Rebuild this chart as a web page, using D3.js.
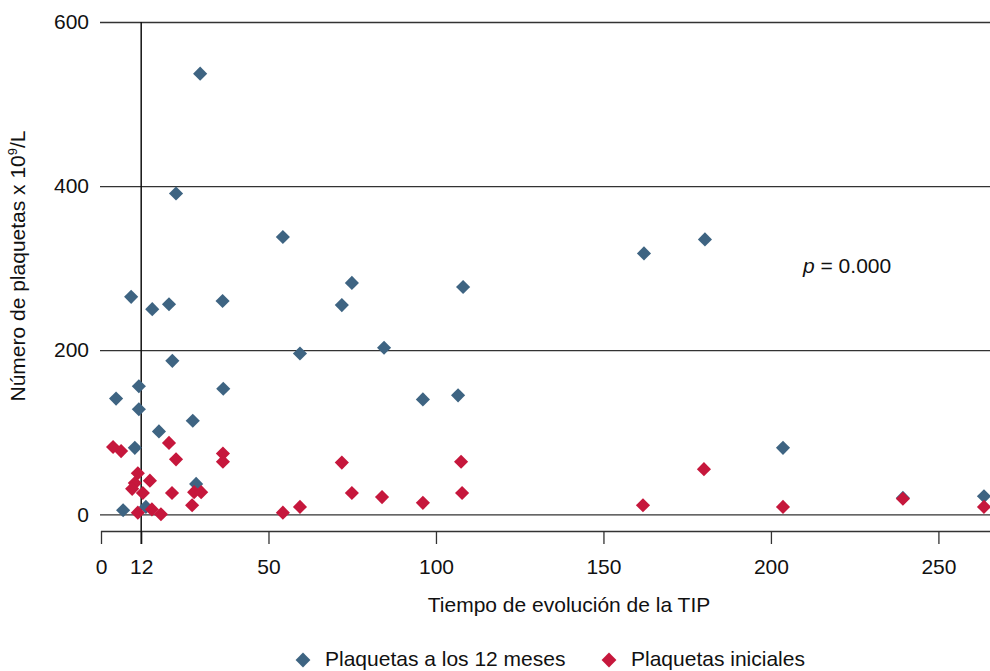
<!DOCTYPE html>
<html>
<head>
<meta charset="utf-8">
<script src="https://cdn.jsdelivr.net/npm/d3@7"></script>
<style>
  body { margin: 0; background: #fff; }
  svg { font-family: "Liberation Sans", Arial, sans-serif; }
</style>
</head>
<body>
<svg id="chart"></svg>
<script>
// months of evolution vs platelets (x 10^9/L)
const blueX = [29.6, 22.4, 54.3, 162.1, 180.3, 9.0, 15.3, 20.3, 36.3, 74.9, 71.9, 108.1, 21.3, 59.4, 84.5,
  11.3, 4.5, 36.5, 96.1, 106.6, 11.3, 27.4, 17.3, 10.1, 203.6, 28.4, 6.6, 13.4, 263.6, 239.4];
const blueY = [537, 391, 338, 318, 335, 265, 250, 256, 260, 282, 255, 277, 187, 196, 203,
  156, 141, 153, 140, 145, 128, 114, 101, 81, 81, 37, 5, 9, 22, 20];

const redX = [3.6, 6.0, 20.3, 22.4, 36.4, 36.4, 11.0, 14.6, 10.1, 9.3, 12.5, 21.2, 27.8, 29.9, 27.2, 11.0,
  15.2, 17.9, 54.3, 59.4, 71.9, 74.9, 83.9, 96.1, 107.5, 107.8, 161.8, 180.0, 203.6, 239.4, 263.6];
const redY = [82, 77, 87, 67, 74, 64, 50, 41, 38, 31, 26, 26, 27, 27, 11, 2,
  6, 0, 2, 9, 63, 26, 21, 14, 64, 26, 11, 55, 9, 19, 9];

const xTicks = [0, 12, 50, 100, 150, 200, 250];
const yTicks = [0, 200, 400, 600];
const seriesNames = ["Plaquetas a los 12 meses", "Plaquetas iniciales"];
const colors = ["#3e6482", "#c6173c"];

const width = 990, height = 671;
const fs = 21;
const svg = d3.select("#chart").attr("width", width).attr("height", height);

const x = d3.scaleLinear().domain([0, 265.4]).range([101, 990]);
const y = d3.scaleLinear().domain([0, 600]).range([514.3, 22]);

// horizontal grid lines + y labels
const yAxis = svg.append("g")
  .attr("transform", "translate(100,0)")
  .call(d3.axisRight(y).tickValues(yTicks).tickSize(890).tickFormat(d3.format("d")));
yAxis.select(".domain").remove();
yAxis.selectAll(".tick line").attr("stroke", "#333").attr("stroke-width", 1.3);
yAxis.selectAll(".tick text")
  .attr("x", -11).attr("text-anchor", "end")
  .attr("font-size", fs).attr("fill", "#111");

// x axis at bottom
const xAxis = svg.append("g")
  .attr("transform", "translate(0,531)")
  .call(d3.axisBottom(x).tickValues(xTicks).tickSize(13).tickSizeOuter(0).tickFormat(d3.format("d")));
xAxis.select(".domain").attr("stroke", "#333").attr("stroke-width", 1.5)
  .attr("d", `M${x(0)},0.5H${width}`);
xAxis.selectAll(".tick line").attr("stroke", "#333").attr("stroke-width", 1.3);
xAxis.selectAll(".tick text").attr("dy", 0).attr("y", 43)
  .attr("font-size", fs).attr("fill", "#111");

// reference line at 12 months
svg.append("line")
  .attr("x1", x(12)).attr("x2", x(12))
  .attr("y1", y(600)).attr("y2", 544)
  .attr("stroke", "#111").attr("stroke-width", 1.5);

// points
const diamond = d3.symbol(d3.symbolSquare, 100);
function drawSeries(xs, ys, color) {
  svg.append("g").selectAll("path")
    .data(xs.map((d, i) => [d, ys[i]]))
    .join("path")
    .attr("d", diamond)
    .attr("transform", d => `translate(${x(d[0])},${y(d[1])}) rotate(45)`)
    .attr("fill", color);
}
drawSeries(blueX, blueY, colors[0]);
drawSeries(redX, redY, colors[1]);

// p value
const pText = svg.append("text")
  .attr("x", 803).attr("y", 273)
  .attr("font-size", fs).attr("fill", "#111");
pText.append("tspan").attr("font-style", "italic").text("p");
pText.append("tspan").text(" = 0.000");

// axis titles
svg.append("text")
  .attr("x", 569).attr("y", 612)
  .attr("text-anchor", "middle")
  .attr("font-size", fs).attr("fill", "#111")
  .text("Tiempo de evolución de la TIP");

const yTitle = svg.append("text")
  .attr("transform", `translate(25,${266}) rotate(-90)`)
  .attr("text-anchor", "middle")
  .attr("font-size", fs).attr("fill", "#111");
yTitle.append("tspan").text("Número de plaquetas x 10");
yTitle.append("tspan").attr("font-size", 13).attr("dy", -8).text("9");
yTitle.append("tspan").attr("dy", 8).text("/L");

// legend (kept just inside the bottom edge)
const legend = svg.append("g").attr("transform", "translate(0,660)");
const legendItems = [{ x: 303, name: seriesNames[0], color: colors[0] }, { x: 609, name: seriesNames[1], color: colors[1] }];
legendItems.forEach(it => {
  legend.append("path")
    .attr("d", d3.symbol(d3.symbolSquare, 110))
    .attr("transform", `translate(${it.x},0) rotate(45)`)
    .attr("fill", it.color);
  legend.append("text")
    .attr("x", it.x + 22).attr("y", 6)
    .attr("font-size", fs).attr("fill", "#111")
    .text(it.name);
});
</script>
</body>
</html>
